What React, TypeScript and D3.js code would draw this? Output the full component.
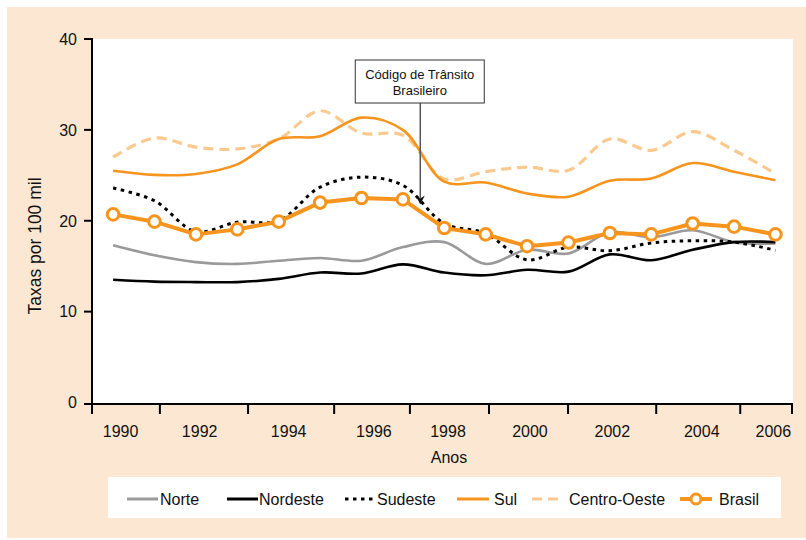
import React from "react";
import * as d3 from "d3";

const years = d3.range(1990, 2007);
const norte = [17.3, 16.2, 15.45, 15.25, 15.6, 15.9, 15.6, 17.1, 17.65, 15.25, 16.8, 16.4, 18.75, 18.2, 18.95, 17.65, 17.5];
const nordeste = [13.5, 13.3, 13.25, 13.25, 13.6, 14.3, 14.2, 15.2, 14.3, 14.0, 14.6, 14.4, 16.3, 15.65, 16.8, 17.65, 17.65];
const sudeste = [23.6, 22.2, 18.8, 19.85, 20.0, 23.7, 24.8, 23.9, 19.7, 18.6, 15.7, 17.1, 16.7, 17.55, 17.8, 17.65, 16.75];
const sul = [25.5, 25.05, 25.15, 26.2, 29.0, 29.3, 31.35, 30.0, 24.3, 24.2, 23.0, 22.65, 24.4, 24.65, 26.35, 25.4, 24.45];
const centroOeste = [27.0, 29.1, 28.1, 27.9, 29.0, 32.1, 29.65, 29.4, 24.6, 25.4, 25.9, 25.55, 29.0, 27.75, 29.8, 27.75, 25.2];
const brasil = [20.7, 19.9, 18.5, 19.05, 19.9, 22.0, 22.5, 22.35, 19.2, 18.5, 17.2, 17.6, 18.65, 18.5, 19.7, 19.35, 18.5];

const yTicks = [0, 10, 20, 30, 40];
const xTickMarks = [1989.49, 1991.13, 1993.26, 1995.34, 1997.17, 1999.08, 2000.99, 2003.12, 2005.15, 2006.4];
const xLabels = ["1990", "1992", "1994", "1996", "1998", "2000", "2002", "2004", "2006"];
const xLabelAt = [1990.18, 1992.09, 1994.24, 1996.3, 1998.09, 2000.07, 2002.06, 2004.22, 2005.95];

const annotationLines = ["Código de Trânsito", "Brasileiro"];
const annotationYear = 1997.42;
const annotationTip = 21.8;

const ORANGE = "#F7941D";
const LIGHT = "#FBC98D";
const GRAY = "#9A9A9C";
const BG = "#FCE8D2";
const FONT = "'Liberation Sans', Arial, sans-serif";

const series = [
  { name: "Centro-Oeste", values: centroOeste, color: LIGHT, width: 3.2, dash: "10,6", smooth: true },
  { name: "Sul", values: sul, color: ORANGE, width: 2.6, dash: null, smooth: true },
  { name: "Norte", values: norte, color: GRAY, width: 2.6, dash: null, smooth: true },
  { name: "Nordeste", values: nordeste, color: "#000", width: 2.6, dash: null, smooth: true },
  { name: "Sudeste", values: sudeste, color: "#000", width: 3, dash: "3.5,4.5", smooth: true },
  { name: "Brasil", values: brasil, color: ORANGE, width: 4, dash: null, smooth: false },
];

const legendOrder = ["Norte", "Nordeste", "Sudeste", "Sul", "Centro-Oeste", "Brasil"];
const legendLayout = [
  { x0: 127, x1: 158, tx: 160 },
  { x0: 227, x1: 258, tx: 259 },
  { x0: 345, x1: 375, tx: 377 },
  { x0: 457, x1: 489, tx: 494 },
  { x0: 532, x1: 563, tx: 569 },
  { x0: 680, x1: 712, tx: 719 },
];

export default function App() {
  const W = 806, H = 540;
  const x = d3.scaleLinear().domain([1989.49, 2006.4]).range([92, 792]);
  const y = d3.scaleLinear().domain([0, 40]).range([402.5, 39]);
  const axisY = 404;

  const mk = (smooth: boolean) =>
    d3
      .line<number>()
      .x((_, i) => x(years[i]))
      .y((d) => y(d))
      .curve(smooth ? d3.curveCatmullRom.alpha(0.5) : d3.curveLinear);

  const ax = x(annotationYear);
  const boxW = 129, boxH = 43;
  const boxTop = 60;

  return (
    <svg width={W} height={H} style={{ position: "absolute", left: 0, top: 0, display: "block" }} fontFamily={FONT}>
      <rect x={0} y={0} width={W} height={H} fill="#fff" />
      <rect x={7} y={7} width={W - 7} height={531} fill={BG} />
      <rect x={92} y={39} width={701} height={axisY - 39} fill="#fff" />

      {series.map((s) => (
        <path
          key={s.name}
          d={mk(s.smooth)(s.values) || ""}
          fill="none"
          stroke={s.color}
          strokeWidth={s.width}
          strokeDasharray={s.dash || undefined}
          strokeLinejoin="round"
        />
      ))}
      {brasil.map((v, i) => (
        <circle key={i} cx={x(years[i])} cy={y(v)} r={5.8} fill="#fff" stroke={ORANGE} strokeWidth={3} />
      ))}

      {/* annotation */}
      <line x1={ax} x2={ax} y1={boxTop + boxH} y2={y(annotationTip) - 6} stroke="#555" strokeWidth={1.5} />
      <path
        d={`M${ax},${y(annotationTip)} L${ax - 4.5},${y(annotationTip) - 9} L${ax},${y(annotationTip) - 6} L${ax + 4.5},${y(annotationTip) - 9} Z`}
        fill="#111"
      />
      <rect x={ax - 65} y={boxTop} width={boxW} height={boxH} fill="#fff" stroke="#333" strokeWidth={1} />
      {annotationLines.map((t, i) => (
        <text key={t} x={ax - 0.5} y={boxTop + 19 + i * 16} textAnchor="middle" fontSize={13} fill="#111">
          {t}
        </text>
      ))}

      {/* axes */}
      <line x1={92} x2={92} y1={38} y2={axisY + 1} stroke="#000" strokeWidth={2} />
      <line x1={91} x2={793} y1={axisY} y2={axisY} stroke="#000" strokeWidth={2} />
      {yTicks.map((t) => (
        <g key={t}>
          <line x1={84} x2={92} y1={t === 0 ? axisY : y(t)} y2={t === 0 ? axisY : y(t)} stroke="#000" strokeWidth={2} />
          <text x={77} y={y(t)} dy="0.36em" textAnchor="end" fontSize={16} fill="#111">
            {t}
          </text>
        </g>
      ))}
      {xTickMarks.map((t, i) => (
        <line key={i} x1={x(t)} x2={x(t)} y1={axisY} y2={axisY + 10} stroke="#000" strokeWidth={2} />
      ))}
      {xLabels.map((l, i) => (
        <text key={l} x={x(xLabelAt[i])} y={437} textAnchor="middle" fontSize={16} fill="#111">
          {l}
        </text>
      ))}
      <text x={449} y={463} textAnchor="middle" fontSize={16} fill="#111">
        Anos
      </text>
      <text
        transform={`translate(41,246) rotate(-90)`}
        textAnchor="middle"
        fontSize={17.5}
        fill="#111"
      >
        Taxas por 100 mil
      </text>

      {/* legend */}
      <rect x={108} y={477} width={673} height={41} fill="#fff" />
      {legendOrder.map((name, i) => {
        const s = series.find((q) => q.name === name)!;
        const L = legendLayout[i];
        const cy = 499;
        return (
          <g key={name}>
            <line
              x1={L.x0}
              x2={L.x1}
              y1={cy}
              y2={cy}
              stroke={s.color}
              strokeWidth={name === "Brasil" ? 4 : 3}
              strokeDasharray={s.dash || undefined}
            />
            {name === "Brasil" && (
              <circle cx={(L.x0 + L.x1) / 2} cy={cy} r={5} fill="#fff" stroke={ORANGE} strokeWidth={3} />
            )}
            <text x={L.tx} y={cy} dy="0.36em" fontSize={16} fill="#111">
              {name}
            </text>
          </g>
        );
      })}
    </svg>
  );
}
